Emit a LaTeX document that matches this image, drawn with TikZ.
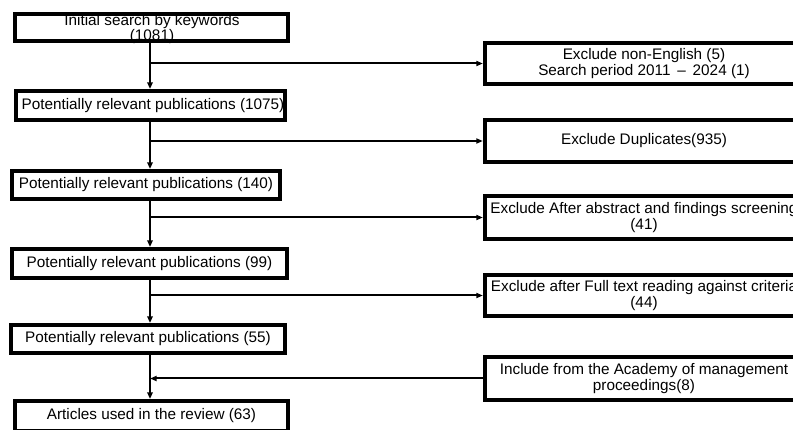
\documentclass[tikz,border=0pt]{standalone}
\usepackage{fontspec}
\setmainfont{Liberation Sans}
\usetikzlibrary{arrows.meta}
\begin{document}
\begin{tikzpicture}[x=1pt,y=-1pt,
  box/.style={draw=black, line width=3.8pt, fill=white, inner sep=0pt,
    align=center, font=\fontsize{15.3}{16}\selectfont},
  lbl/.style={inner sep=0pt, align=center, font=\fontsize{15.3}{15.5}\selectfont},
  flow/.style={line width=2.3pt, -{Triangle[length=6.5pt,width=5.5pt]}},
  side/.style={line width=2pt, -{Triangle[length=6.5pt,width=5pt]}}]
\useasboundingbox (0,0) rectangle (793,430);
\clip (0,0) rectangle (793,430);

% main column
\node[box, minimum width=273.5pt, minimum height=27.5pt] (b1) at (151.5,27.5) {};
\node[lbl] (b1t) at (152,29) {Initial search by keywords\\(1081)};
\node[box, minimum width=269.5pt, minimum height=29.5pt] (b2) at (150.5,105.5)
  {\hspace*{5pt}Potentially relevant publications (1075)};
\node[box, minimum width=268.5pt, minimum height=28.5pt] (b3) at (146,185)
  {Potentially relevant publications (140)};
\node[box, minimum width=275.5pt, minimum height=29.5pt] (b4) at (149.5,263.5)
  {Potentially relevant publications (99)};
\node[box, minimum width=274.5pt, minimum height=28.5pt] (b5) at (148,339)
  {Potentially relevant publications (55)};
\node[box, minimum width=273.5pt, minimum height=30.5pt] (b6) at (151.5,416)
  {Articles used in the review (63)};

% side column
\node[box, minimum width=318.5pt, minimum height=41.5pt] (r1) at (644,63.5)
  {Exclude non-English (5)\\Search period 2011 \,--\, 2024 (1)};
\node[box, minimum width=318.5pt, minimum height=42.5pt] (r2) at (644,141)
  {Exclude Duplicates(935)};
\node[box, minimum width=318.5pt, minimum height=43.5pt] (r3) at (644,217.5)
  {Exclude After abstract and findings screening\\(41)};
\node[box, minimum width=318.5pt, minimum height=41.5pt] (r4) at (644,295.5)
  {Exclude after Full text reading against criteria\\(44)};
\node[box, minimum width=318.5pt, minimum height=43.5pt] (r5) at (644,378.5)
  {Include from the Academy of management\\proceedings(8)};

% spine of the main flow
\coordinate (spine) at (150,0);

\draw[flow] (b1.south -| spine) -- (b2.north -| spine);
\draw[flow] (b2.south -| spine) -- (b3.north -| spine);
\draw[flow] (b3.south -| spine) -- (b4.north -| spine);
\draw[flow] (b4.south -| spine) -- (b5.north -| spine);
\draw[flow] (b5.south -| spine) -- (b6.north -| spine);

\draw[side] (r1.west -| spine) -- (r1.west);
\draw[side] (r2.west -| spine) -- (r2.west);
\draw[side] (r3.west -| spine) -- (r3.west);
\draw[side] (r4.west -| spine) -- (r4.west);
\draw[side] (r5.west) -- (r5.west -| spine);
\end{tikzpicture}
\end{document}
